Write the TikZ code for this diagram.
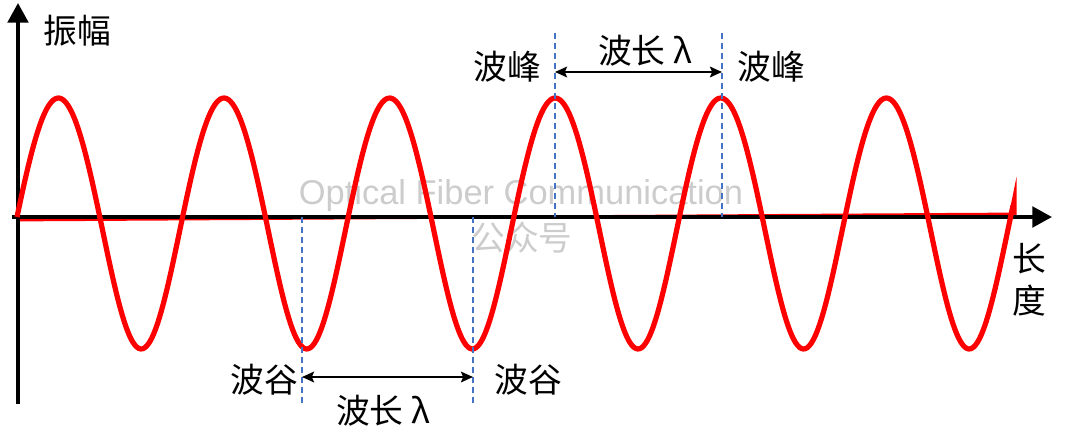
\documentclass[tikz,border=0pt]{standalone}
\usepackage{fontspec}
\setmainfont{Liberation Sans}
\newfontfamily\cjk{Noto Sans CJK SC}
\usetikzlibrary{arrows.meta}
\definecolor{wavered}{RGB}{255,0,0}
\definecolor{dashblue}{RGB}{68,114,196}
\definecolor{wmgray}{RGB}{204,204,204}
\tikzset{
  axisline/.style={line width=2.9pt, black},
  waveline/.style={line width=3.7pt, wavered, line join=round},
  guide/.style={line width=1.1pt, dashblue, dash pattern=on 4.3pt off 2.8pt},
  dimarrow/.style={line width=2.1pt, black, {Stealth[length=8.5pt,width=7.5pt,inset=1.5pt]}-{Stealth[length=8.5pt,width=7.5pt,inset=1.5pt]}},
  lbl/.style={font=\cjk\fontsize{24pt}{28pt}\selectfont, inner sep=0pt, text=black},
  wm/.style={inner sep=0pt, text=wmgray, font=\fontsize{24.5pt}{28pt}\selectfont}
}
\begin{document}
\begin{tikzpicture}[x=0.025cm,y=-0.025cm]
\useasboundingbox (0,0) rectangle (1080,447);
% watermark
\node[wm] (wm1) at (521,196) {Optical Fiber Communication};
\node[wm, font=\cjk\fontsize{24pt}{28pt}\selectfont] (wm2) at (522,238) {公众号};
% red baseline under axis
\draw[wavered, line width=2pt] (17,220) -- (1013,214);
\fill[wavered] (1009,214) -- (1016.5,177) -- (1016.5,215) -- cycle;
% axes
\coordinate (yb) at (18,404);
\coordinate (yt) at (18,3);
\coordinate (xl) at (12,217);
\coordinate (xr) at (1052,217);
\draw[axisline, -{Triangle[length=14pt,width=14.5pt]}] (yb) -- (yt);
\draw[axisline, -{Triangle[length=14pt,width=14.5pt]}] (xl) -- (xr);
% wave
\draw[waveline] plot[domain=17:1013, samples=500, smooth]
  (\x, {217 - 125.5*sin((\x-17)/165.6*360) + 6.5*sin((\x-17)/165.6*360)*sin((\x-17)/165.6*360)});
% guides
\coordinate (p1t) at (555,33);  \coordinate (p1b) at (555,217);
\coordinate (p2t) at (722,33);  \coordinate (p2b) at (722,217);
\coordinate (t1t) at (302,217); \coordinate (t1b) at (302,404);
\coordinate (t2t) at (473,217); \coordinate (t2b) at (473,404);
\draw[guide] (p1t) -- (p1b);
\draw[guide] (p2t) -- (p2b);
\draw[guide] (t1t) -- (t1b);
\draw[guide] (t2t) -- (t2b);
% dimension arrows
\coordinate (a1) at (555,72); \coordinate (a2) at (722,72);
\coordinate (b1) at (302,377); \coordinate (b2) at (473,377);
\draw[dimarrow] (a1) -- (a2);
\draw[dimarrow] (b1) -- (b2);
% labels
\node[lbl] (amp) at (77,31) {振幅};
\node[lbl] (len1) at (1029,259) {长};
\node[lbl] (len2) at (1029,301) {度};
\node[lbl] (pkL) at (507,67) {波峰};
\node[lbl] (pkR) at (771,67) {波峰};
\node[lbl] (wlT) at (645,51) {波长 λ};
\node[lbl] (trL) at (264,380) {波谷};
\node[lbl] (trR) at (528,380) {波谷};
\node[lbl] (wlB) at (383,411) {波长 λ};
\end{tikzpicture}
\end{document}
